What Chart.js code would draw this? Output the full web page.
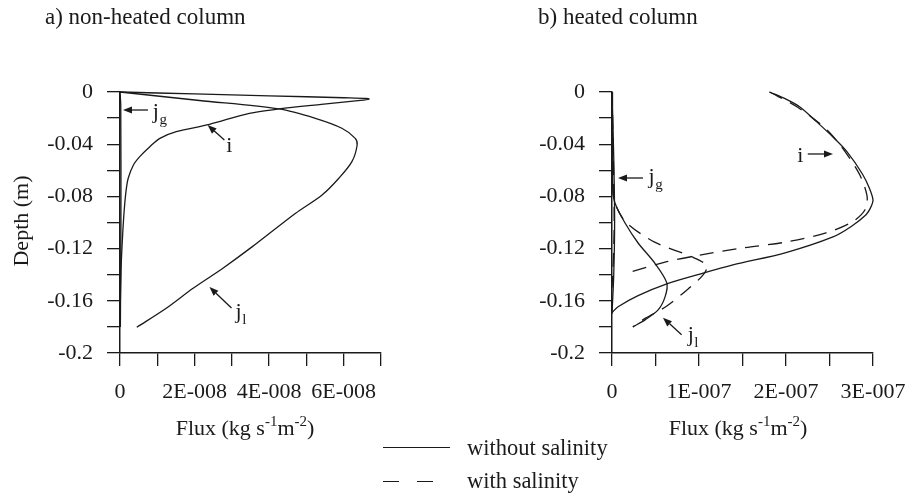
<!DOCTYPE html>
<html><head><meta charset="utf-8">
<script src="https://cdn.jsdelivr.net/npm/chart.js@4.4.0/dist/chart.umd.min.js"></script>
<style>
html,body{margin:0;padding:0;background:#fff;}
#wrap{position:relative;width:909px;height:498px;overflow:hidden;font-family:"Liberation Serif","Times New Roman",serif;color:#1a1a1a;}
canvas{position:absolute;left:0;top:0;}
.t{position:absolute;font-size:22px;line-height:22px;white-space:nowrap;}
.c{text-align:center;width:300px;}
.t sup{font-size:15px;line-height:0;vertical-align:0;position:relative;top:-9px;}
.ln{position:absolute;height:0;border-top:1.5px solid #1a1a1a;}
</style></head>
<body><div id="wrap">
<canvas id="cA" width="960" height="498" style="width:960px;height:498px"></canvas>
<canvas id="cB" width="960" height="498" style="width:960px;height:498px"></canvas>
<div class="t" style="left:45px;top:6px;font-size:23px">a) non-heated column</div>
<div class="t" style="left:538px;top:6px;font-size:23px">b) heated column</div>
<div class="t c" style="left:95px;top:417px">Flux (kg s<sup>-1</sup>m<sup>-2</sup>)</div>
<div class="t c" style="left:588px;top:417px">Flux (kg s<sup>-1</sup>m<sup>-2</sup>)</div>
<div class="t c" style="left:-129px;top:210px;width:300px;transform:rotate(-90deg)">Depth (m)</div>
<div class="ln" style="left:383px;top:447px;width:67px"></div>
<div class="ln" style="left:383px;top:481px;width:16px"></div>
<div class="ln" style="left:417px;top:481px;width:16px"></div>
<div class="t" style="left:467px;top:437px;font-size:22.5px">without salinity</div>
<div class="t" style="left:467px;top:470px;font-size:22.5px">with salinity</div>
</div>
<script>
// ---------- data: [flux (kg s-1 m-2), depth (m)] ----------
const leftI = [[0,0],[2e-8,-0.0015],[4e-8,-0.0029],[6e-8,-0.0044],[6.6e-8,-0.0049],[6.68e-8,-0.0054],[6.45e-8,-0.0064],[5.4e-8,-0.0095],[4.27e-8,-0.013],[3.47e-8,-0.0163],[2.4e-8,-0.0248],[1.51e-8,-0.0304],[1.07e-8,-0.0355],[0.8e-8,-0.0419],[0.53e-8,-0.0495],[0.36e-8,-0.0559],[0.22e-8,-0.0661],[0.16e-8,-0.0763],[0.11e-8,-0.0917],[0.07e-8,-0.11],[0.03e-8,-0.134],[0.01e-8,-0.16],[0,-0.18]];
const leftJl = [[0,0],[2.13e-8,-0.0065],[4.27e-8,-0.013],[5.24e-8,-0.0202],[5.95e-8,-0.0278],[6.31e-8,-0.0355],[6.36e-8,-0.0406],[6.22e-8,-0.0534],[5.87e-8,-0.0661],[5.42e-8,-0.0789],[4.71e-8,-0.0929],[3.55e-8,-0.1185],[2.76e-8,-0.135],[1.96e-8,-0.1504],[1.24e-8,-0.1657],[0.45e-8,-0.1803]];
const leftJg = [[0,0],[0.02e-8,-0.01],[0.025e-8,-0.1],[0.01e-8,-0.18]];

const rightI = [[1.81e-7,0],[2.0e-7,-0.0055],[2.16e-7,-0.0115],[2.35e-7,-0.0227],[2.54e-7,-0.0345],[2.70e-7,-0.0457],[2.88e-7,-0.063],[2.96e-7,-0.074],[3.0e-7,-0.083],[2.97e-7,-0.089],[2.92e-7,-0.094],[2.75e-7,-0.103],[2.54e-7,-0.111],[2.0e-7,-0.123],[1.39e-7,-0.1325],[1.01e-7,-0.1395],[0.63e-7,-0.147],[0.30e-7,-0.156],[0.07e-7,-0.1645],[0,-0.169]];
const rightISalt = [[1.81e-7,0],[2.13e-7,-0.0115],[2.50e-7,-0.031],[2.82e-7,-0.06],[2.93e-7,-0.079],[2.91e-7,-0.090],[2.76e-7,-0.0996],[2.46e-7,-0.108],[2.00e-7,-0.115],[1.50e-7,-0.1195],[1.01e-7,-0.125],[0.63e-7,-0.130],[0.21e-7,-0.138]];
const rightJl = [[0.005e-7,0],[0.005e-7,-0.05],[0.01e-7,-0.075],[0.034e-7,-0.085],[0.15e-7,-0.1004],[0.30e-7,-0.1157],[0.49e-7,-0.131],[0.63e-7,-0.1463],[0.61e-7,-0.157],[0.53e-7,-0.167],[0.38e-7,-0.1746],[0.24e-7,-0.18]];
const rightJlSalt = [[0.005e-7,0],[0.01e-7,-0.075],[0.05e-7,-0.088],[0.17e-7,-0.1004],[0.49e-7,-0.115],[0.92e-7,-0.1264],[1.09e-7,-0.133],[1.05e-7,-0.140],[0.89e-7,-0.150],[0.63e-7,-0.164],[0.38e-7,-0.1735],[0.24e-7,-0.180]];
const rightJg = [[0,0],[0.02e-7,-0.05],[0.03e-7,-0.1],[0.02e-7,-0.14],[0,-0.17]];
const rightJgSalt = [[0,0],[0.015e-7,-0.05],[0.025e-7,-0.1],[0.015e-7,-0.13],[0,-0.15]];

// ---------- tick labels ----------
const yTickLabels = ['0','-0.04','-0.08','-0.12','-0.16','-0.2'];
const leftXTickLabels = ['0','2E-008','4E-008','6E-008'];
const rightXTickLabels = ['0','1E-007','2E-007','3E-007'];

// ---------- annotations (data coordinates) ----------
const leftArrows = [
  {from:[0.75e-8,-0.0138], to:[0.08e-8,-0.0138]},
  {from:[2.8e-8,-0.0368], to:[2.35e-8,-0.0253]},
  {from:[2.99e-8,-0.1655], to:[2.4e-8,-0.1494]}
];
const leftLabels = [
  {text:'j', sub:'g', at:[0.88e-8,-0.0199]},
  {text:'i', sub:'', at:[2.85e-8,-0.046]},
  {text:'j', sub:'l', at:[3.1e-8,-0.173]}
];
const rightArrows = [
  {from:[0.356e-7,-0.0659], to:[0.069e-7,-0.0659]},
  {from:[2.25e-7,-0.0475], to:[2.54e-7,-0.0475]},
  {from:[0.80e-7,-0.186], to:[0.586e-7,-0.173]}
];
const rightLabels = [
  {text:'j', sub:'g', at:[0.42e-7,-0.0697]},
  {text:'i', sub:'', at:[2.13e-7,-0.0536]},
  {text:'j', sub:'l', at:[0.87e-7,-0.1907]}
];

const INK = '#1a1a1a';
Chart.defaults.font.family = '"Liberation Serif", "Times New Roman", serif';
Chart.defaults.color = INK;

const annotPlugin = {
  id: 'annot',
  afterDatasetsDraw(chart, args, opts) {
    const ctx = chart.ctx, x = chart.scales.x, y = chart.scales.y;
    ctx.save();
    ctx.strokeStyle = INK; ctx.fillStyle = INK; ctx.lineWidth = 1.3;
    (opts.arrows || []).forEach(a => {
      const x0 = x.getPixelForValue(a.from[0]), y0 = y.getPixelForValue(a.from[1]);
      const x1 = x.getPixelForValue(a.to[0]), y1 = y.getPixelForValue(a.to[1]);
      const ang = Math.atan2(y1 - y0, x1 - x0), L = 9, W = 3.5;
      const bx = x1 - L * Math.cos(ang), by = y1 - L * Math.sin(ang);
      ctx.beginPath(); ctx.moveTo(x0, y0); ctx.lineTo(bx, by); ctx.stroke();
      ctx.beginPath(); ctx.moveTo(x1, y1);
      ctx.lineTo(bx + W * Math.sin(ang), by - W * Math.cos(ang));
      ctx.lineTo(bx - W * Math.sin(ang), by + W * Math.cos(ang));
      ctx.closePath(); ctx.fill();
    });
    (opts.labels || []).forEach(l => {
      const px = x.getPixelForValue(l.at[0]), py = y.getPixelForValue(l.at[1]);
      ctx.textBaseline = 'alphabetic'; ctx.textAlign = 'left';
      ctx.font = '22px "Liberation Serif"';
      ctx.fillText(l.text, px, py);
      const w = ctx.measureText(l.text).width;
      if (l.sub) { ctx.font = '15px "Liberation Serif"'; ctx.fillText(l.sub, px + w + 0.5, py + 6); }
    });
    ctx.restore();
  }
};

const pts = arr => arr.map(p => ({x: p[0], y: p[1]}));
function ds(arr, dashed) {
  return {data: pts(arr), showLine: true, borderColor: INK, borderWidth: 1.3, pointRadius: 0,
          borderDash: dashed ? [14, 9] : [], tension: 0.3, fill: false, clip: false};
}

const YW = 80, XH = 60, W = 960, H = 498;
function makeChart(id, area, xMax, xStep, xLabels, datasets, arrows, labels) {
  new Chart(document.getElementById(id), {
    type: 'scatter',
    data: {datasets},
    plugins: [annotPlugin],
    options: {
      responsive: false, animation: false, events: [],
      layout: {padding: {left: area.left - YW, right: W - area.right, top: area.top, bottom: H - area.bottom - XH}},
      plugins: {legend: {display: false}, tooltip: {enabled: false}, annot: {arrows, labels}},
      scales: {
        x: {
          type: 'linear', min: 0, max: xMax,
          afterFit: s => { s.height = XH; },
          grid: {drawOnChartArea: false, drawTicks: true, tickLength: 13, color: INK, lineWidth: 1.3},
          border: {display: true, color: INK, width: 1.5},
          ticks: {stepSize: xStep, autoSkip: false, maxTicksLimit: 100, maxRotation: 0, padding: 13,
                  font: {size: 22}, color: INK,
                  callback: v => { const k = Math.round(v / xStep); return k % 2 === 0 ? (xLabels[k / 2] ?? '') : ''; }}
        },
        y: {
          type: 'linear', min: -0.2, max: 0,
          afterFit: s => { s.width = YW; },
          grid: {drawOnChartArea: false, drawTicks: true, tickLength: 13, color: INK, lineWidth: 1.3},
          border: {display: true, color: INK, width: 1.5},
          ticks: {stepSize: 0.02, autoSkip: false, maxTicksLimit: 100, padding: 14,
                  font: {size: 22}, color: INK,
                  callback: v => { const k = Math.round(-v / 0.02); return k % 2 === 0 ? (yTickLabels[k / 2] ?? '') : ''; }}
        }
      }
    }
  });
}

makeChart('cA', {left: 120, right: 381, top: 92, bottom: 353}, 7e-8, 1e-8, leftXTickLabels,
  [ds(leftI, false), ds(leftJl, false), ds(leftJg, false)], leftArrows, leftLabels);
makeChart('cB', {left: 612, right: 873, top: 92, bottom: 353}, 3e-7, 0.5e-7, rightXTickLabels,
  [ds(rightI, false), ds(rightISalt, true), ds(rightJl, false), ds(rightJlSalt, true), ds(rightJg, false), ds(rightJgSalt, true)],
  rightArrows, rightLabels);
</script>
</body></html>
